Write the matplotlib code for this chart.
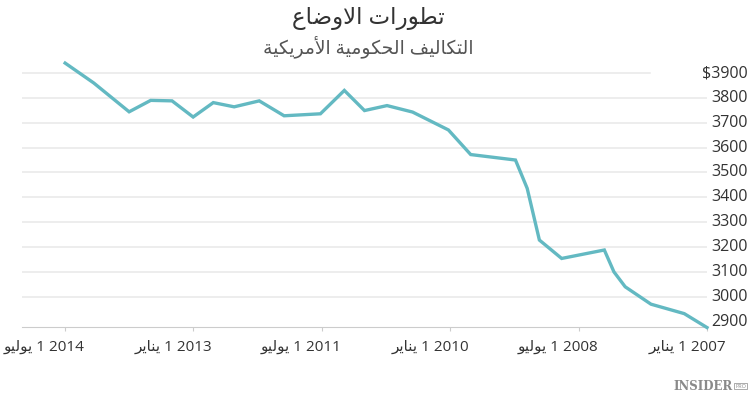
import matplotlib
matplotlib.use('Agg')
import matplotlib.pyplot as plt
import matplotlib.transforms as mtransforms
import pandas as pd

# data
dates = ['2014-07-01', '2014-03-01', '2013-10-01', '2013-07-01', '2013-04-01',
         '2013-01-01', '2012-10-07', '2012-07-10', '2012-03-25', '2011-12-10',
         '2011-07-08', '2011-03-28', '2011-01-01', '2010-09-27', '2010-06-10',
         '2010-01-08', '2009-10-05', '2009-03-28', '2009-02-06', '2008-12-16',
         '2008-09-12', '2008-03-14', '2008-02-02', '2007-12-16', '2007-08-28',
         '2007-04-08', '2007-01-01']
costs = [3940, 3860, 3744, 3790, 3788,
         3723, 3781, 3764, 3788, 3728,
         3736, 3830, 3749, 3769, 3743,
         3671, 3572, 3550, 3436, 3228,
         3154, 3188, 3100, 3040, 2970,
         2932, 2876]

tick_dates = ['2014-07-01', '2013-01-01', '2011-07-01', '2010-01-01', '2008-07-01', '2007-01-01']
tick_months = ['يوليو', 'يناير', 'يوليو', 'يناير', 'يوليو', 'يناير']
tick_years = ['2014', '2013', '2011', '2010', '2008', '2007']
y_ticks = [3900, 3800, 3700, 3600, 3500, 3400, 3300, 3200, 3100, 3000, 2900]

title = 'تطورات الاوضاع'
subtitle = 'التكاليف الحكومية الأمريكية'

# matplotlib has no arabic shaping, so pick presentation forms by hand
FORMS = {
    'ا': (0xFE8D, 0xFE8E, None, None),
    'أ': (0xFE83, 0xFE84, None, None),
    'ة': (0xFE93, 0xFE94, None, None),
    'ت': (0xFE95, 0xFE96, 0xFE97, 0xFE98),
    'ح': (0xFEA1, 0xFEA2, 0xFEA3, 0xFEA4),
    'ر': (0xFEAD, 0xFEAE, None, None),
    'ض': (0xFEBD, 0xFEBE, 0xFEBF, 0xFEC0),
    'ط': (0xFEC1, 0xFEC2, 0xFEC3, 0xFEC4),
    'ع': (0xFEC9, 0xFECA, 0xFECB, 0xFECC),
    'ف': (0xFED1, 0xFED2, 0xFED3, 0xFED4),
    'ك': (0xFED9, 0xFEDA, 0xFEDB, 0xFEDC),
    'ل': (0xFEDD, 0xFEDE, 0xFEDF, 0xFEE0),
    'م': (0xFEE1, 0xFEE2, 0xFEE3, 0xFEE4),
    'ن': (0xFEE5, 0xFEE6, 0xFEE7, 0xFEE8),
    'و': (0xFEED, 0xFEEE, None, None),
    'ي': (0xFEF1, 0xFEF2, 0xFEF3, 0xFEF4),
}
LAM_ALEF = {'ا': (0xFEFB, 0xFEFC), 'أ': (0xFEF7, 0xFEF8)}


def shape(text):
    units = []
    i = 0
    while i < len(text):
        if text[i] == 'ل' and i + 1 < len(text) and text[i + 1] in LAM_ALEF:
            units.append(('LA', text[i + 1]))
            i += 2
        else:
            units.append(text[i])
            i += 1
    out = []
    for k, u in enumerate(units):
        prev = units[k - 1] if k > 0 else None
        nxt = units[k + 1] if k + 1 < len(units) else None
        joins_prev = isinstance(prev, str) and prev in FORMS and FORMS[prev][2] is not None
        if isinstance(u, tuple):
            iso, fin = LAM_ALEF[u[1]]
            out.append(chr(fin if joins_prev else iso))
            continue
        if u not in FORMS:
            out.append(u)
            continue
        iso, fin, ini, med = FORMS[u]
        joins_next = ini is not None and nxt is not None and (isinstance(nxt, tuple) or nxt in FORMS)
        if joins_prev and joins_next:
            out.append(chr(med))
        elif joins_prev:
            out.append(chr(fin))
        elif joins_next:
            out.append(chr(ini))
        else:
            out.append(chr(iso))
    return ''.join(reversed(out))


plt.rcParams['font.family'] = ['Open Sans', 'DejaVu Sans']

line_color = '#63b9c2'
text_color = '#333333'

fig = plt.figure(figsize=(7.5, 3.94), dpi=100)
ax = fig.add_axes([22 / 750, (394 - 327.3) / 394, 685 / 750, (327.3 - 60.6) / 394])

x = pd.to_datetime(dates)
ax.set_xlim(pd.Timestamp('2015-01-01'), pd.Timestamp('2007-01-01'))
ax.set_ylim(2877, 3950)

# gridlines stop before the labels on the right
for v in y_ticks[1:-1]:
    ax.axhline(v, color='#e8e8e8', lw=1.1, zorder=1)
ax.axhline(3900, xmax=(650 - 22) / 685, color='#e8e8e8', lw=1.1, zorder=1)

ax.plot(x, costs, color=line_color, lw=2.4, zorder=3, solid_joinstyle='miter', clip_on=False)

for s in ['top', 'left', 'right']:
    ax.spines[s].set_visible(False)
ax.spines['bottom'].set_color('#cccccc')
ax.set_yticks([])

ax.set_xticks(pd.to_datetime(tick_dates))
ax.set_xticklabels([shape(m) + ' 1 ' + y for m, y in zip(tick_months, tick_years)],
                   ha='right', fontsize=11, color=text_color)
ax.tick_params(axis='x', length=3, color='#cccccc', pad=6)
shift = mtransforms.ScaledTranslation(19 / 100, 0, fig.dpi_scale_trans)
for lab in ax.get_xticklabels():
    lab.set_transform(lab.get_transform() + shift)

ylab_tr = mtransforms.blended_transform_factory(fig.transFigure, ax.transData)
for v in y_ticks:
    s = '$' + str(v) if v == y_ticks[0] else str(v)
    ax.text(748 / 750, v, s, transform=ylab_tr, ha='right', va='center',
            fontsize=11.5, color=text_color)

fig.text(368 / 750, 1 - 18 / 394, shape(title), ha='center', va='center',
         fontsize=16.5, color=text_color)
fig.text(368 / 750, 1 - 47 / 394, shape(subtitle), ha='center', va='center',
         fontsize=13.5, color='#555555')

fig.text(733 / 750, 1 - 387 / 394, 'INSIDER', ha='right', va='center',
         fontsize=8.5, family='DejaVu Serif', weight='bold', color='#8a8a8a')
fig.text(735 / 750, 1 - 386 / 394, 'PRO', ha='left', va='center', fontsize=4,
         color='#8a8a8a', bbox=dict(boxstyle='square,pad=0.15', fc='white', ec='#8a8a8a', lw=0.5))

fig.savefig('out.png', dpi=100)
